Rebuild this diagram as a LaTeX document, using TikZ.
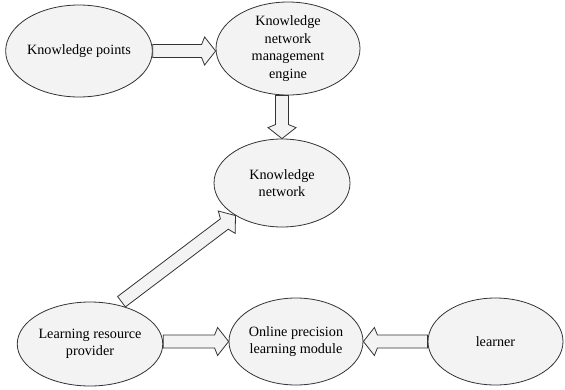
\documentclass[tikz,border=0pt]{standalone}
\usepackage{fontspec}
\setmainfont{Liberation Serif}
\usetikzlibrary{shapes.geometric,calc}
\pgfdeclarelayer{bg}
\pgfsetlayers{bg,main}
\definecolor{boxfill}{HTML}{F2F3F2}
\definecolor{edge}{HTML}{333333}
\tikzset{
  bubble/.style={ellipse, draw=edge, line width=0.8pt, fill=boxfill, inner sep=0pt,
    align=center, font=\fontsize{14.2}{17.5}\selectfont},
  blockarrow/.style={draw=edge, line width=0.8pt, fill=boxfill, line join=miter}
}
\newcommand\barrow[3]{%
  \coordinate (#3s) at (#1);
  \coordinate (#3t) at (#2);
  \coordinate (#3h) at ($(#3t)!14pt!(#3s)$);
  \coordinate (#3f) at ($(#3t)!11pt!(#3s)$);
  \path[blockarrow] ($(#3s)!6.5pt!90:(#3t)$) -- ($(#3h)!6.5pt!90:(#3t)$)
    -- ($(#3f)!14pt!90:(#3t)$) -- (#3t) -- ($(#3f)!14pt!-90:(#3t)$)
    -- ($(#3h)!6.5pt!-90:(#3t)$) -- ($(#3s)!6.5pt!-90:(#3t)$) -- cycle;}
\begin{document}
\begin{tikzpicture}[x=1pt,y=-1pt]
\useasboundingbox (0,0) rectangle (565,389);
\node[bubble, minimum width=134pt, minimum height=92pt] (kp) at (79,51) {Knowledge points};
\node[bubble, minimum width=144pt, minimum height=93pt] (knme) at (288,48.5) {Knowledge\\network\\management\\engine};
\node[bubble, minimum width=136pt, minimum height=88pt] (kn) at (282,183) {Knowledge\\network};
\node[bubble, minimum width=134pt, minimum height=84pt] (lrp) at (90,344) {Learning resource\\provider};
\node[bubble, minimum width=134pt, minimum height=87pt] (oplm) at (296,341.5) {Online precision\\learning module};
\node[bubble, minimum width=135pt, minimum height=87pt] (lrn) at (495.5,341.5) {learner};
\begin{pgfonlayer}{bg}
\barrow{kp.east}{knme.west |- kp.east}{ab}
\barrow{kn.north |- knme.south}{kn.north}{bc}
\barrow{$(lrp.55)!5pt!(kn.215)$}{kn.215}{cd}
\barrow{lrp.east |- oplm.west}{oplm.west}{de}
\barrow{lrn.west}{oplm.east}{ef}
\end{pgfonlayer}
\end{tikzpicture}
\end{document}
